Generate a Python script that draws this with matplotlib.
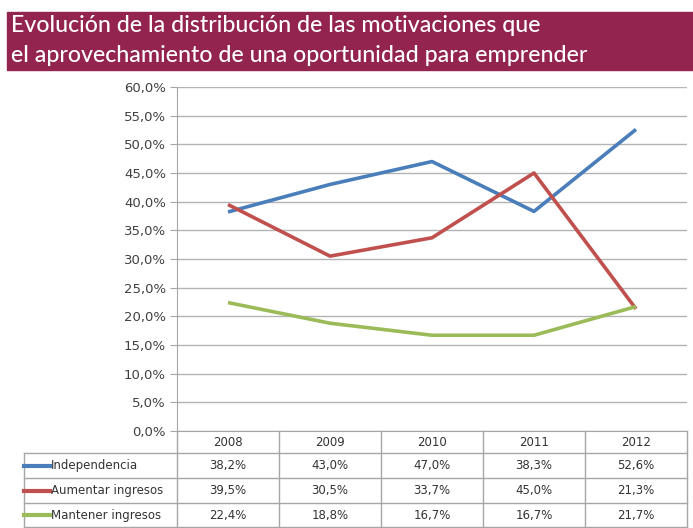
import matplotlib
matplotlib.use("Agg")
import matplotlib.pyplot as plt
from matplotlib.patches import Rectangle
from matplotlib.lines import Line2D

years = ["2008", "2009", "2010", "2011", "2012"]
series_names = ["Independencia", "Aumentar ingresos", "Mantener ingresos"]
independencia = [38.2, 43.0, 47.0, 38.3, 52.6]
aumentar = [39.5, 30.5, 33.7, 45.0, 21.3]
mantener = [22.4, 18.8, 16.7, 16.7, 21.7]
colors = ["#4A7EBB", "#C0504D", "#9BBB59"]
title_lines = ["Evolución de la distribución de las motivaciones que",
               "el aprovechamiento de una oportunidad para emprender"]
yticks = [0, 5, 10, 15, 20, 25, 30, 35, 40, 45, 50, 55, 60]

W, H = 693, 528
fig = plt.figure(figsize=(W / 100, H / 100), dpi=100)

def fx(px):
    return px / W

def fy(py):
    return 1 - py / H

# Title banner
fig.patches.append(Rectangle((fx(7), fy(70)), fx(693) - fx(7), fy(12) - fy(70),
                             transform=fig.transFigure, color="#93234F", zorder=0))
title_font = ["Lato", "DejaVu Sans"]
fig.text(fx(11), fy(25), title_lines[0], color="white", fontsize=16.7,
         family=title_font, weight="medium", va="center", ha="left")
fig.text(fx(11), fy(55), title_lines[1], color="white", fontsize=16.7,
         family=title_font, weight="medium", va="center", ha="left")

left, right, top, bottom = 177, 687, 87, 431
ax = fig.add_axes([fx(left), fy(bottom), fx(right) - fx(left), fy(top) - fy(bottom)])
x = list(range(len(years)))
for vals, c in zip([independencia, aumentar, mantener], colors):
    ax.plot(x, vals, color=c, lw=2.6, solid_capstyle="butt", zorder=3)
ax.set_xlim(-0.5, len(years) - 0.5)
ax.set_ylim(0, 60)
ax.set_yticks(yticks)
ax.set_yticklabels([f"{v:.1f}%".replace(".", ",") for v in yticks],
                   fontsize=9.5, color="#404040")
ax.set_xticks([])
ax.grid(axis="y", color="#B3B3B3", lw=1)
for s in ["top", "right"]:
    ax.spines[s].set_visible(False)
ax.spines["left"].set_color("#A6A6A6")
ax.spines["bottom"].set_color("#A6A6A6")
ax.tick_params(axis="y", length=5, color="#A6A6A6", pad=3)

# Table
gc = "#A6A6A6"
row_edges = [431, 453, 478, 503, 527]
col_w = (right - left) / len(years)
tleft = 24
def hline(py, x0, x1):
    fig.lines.append(Line2D([fx(x0), fx(x1)], [fy(py), fy(py)], transform=fig.transFigure,
                            color=gc, lw=1))
def vline(px, y0, y1):
    fig.lines.append(Line2D([fx(px), fx(px)], [fy(y0), fy(y1)], transform=fig.transFigure,
                            color=gc, lw=1))
for py in row_edges[1:]:
    hline(py, tleft, right)
vline(tleft, row_edges[1], row_edges[-1])
for i in range(len(years) + 1):
    vline(left + i * col_w, row_edges[0], row_edges[-1])

tc = "#333333"
for i, yr in enumerate(years):
    cx = left + (i + 0.5) * col_w
    fig.text(fx(cx), fy((row_edges[0] + row_edges[1]) / 2), yr, ha="center", va="center",
             fontsize=8.5, color=tc)
all_vals = [independencia, aumentar, mantener]
for r, (name, vals, c) in enumerate(zip(series_names, all_vals, colors)):
    cy = (row_edges[r + 1] + row_edges[r + 2]) / 2
    fig.lines.append(Line2D([fx(tleft), fx(tleft + 26)], [fy(cy), fy(cy)],
                            transform=fig.transFigure, color=c, lw=3))
    fig.text(fx(tleft + 27), fy(cy), name, ha="left", va="center", fontsize=8.5,
             color=tc)
    for i, v in enumerate(vals):
        cx = left + (i + 0.5) * col_w
        fig.text(fx(cx), fy(cy), f"{v:.1f}%".replace(".", ","), ha="center", va="center",
                 fontsize=8.5, color=tc)

fig.savefig("out.png", dpi=100, facecolor="white")
